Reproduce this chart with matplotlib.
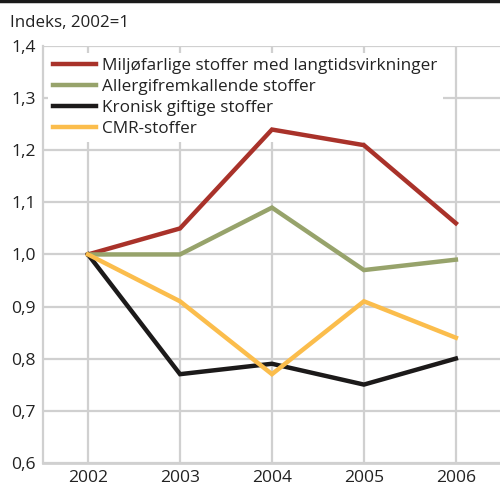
import matplotlib.pyplot as plt
from matplotlib.lines import Line2D
from matplotlib.ticker import FuncFormatter

plt.rcParams['font.family'] = ['Open Sans', 'DejaVu Sans']

years = [2002, 2003, 2004, 2005, 2006]
miljo = [1.0, 1.05, 1.24, 1.21, 1.06]
allergi = [1.0, 1.0, 1.09, 0.97, 0.99]
kronisk = [1.0, 0.77, 0.79, 0.75, 0.80]
cmr = [1.0, 0.91, 0.77, 0.91, 0.84]

labels = ["Miljøfarlige stoffer med langtidsvirkninger",
          "Allergifremkallende stoffer",
          "Kronisk giftige stoffer",
          "CMR-stoffer"]
colors = ["#a9322a", "#97a36b", "#1c1a1a", "#fbbd4c"]

fig = plt.figure(figsize=(5.0, 4.87), dpi=100)
ax = fig.add_axes([0.086, 0.05, 0.914, 0.855])

grid_col = "#d0d0d0"
for i, s in enumerate([miljo, allergi, kronisk, cmr]):
    ax.plot(years, s, color=colors[i], lw=3.2, label=labels[i], zorder=3,
            solid_joinstyle='miter')

ax.set_xlim(2001.51, 2006.48)
ax.set_ylim(0.6, 1.4)
ax.set_xticks(years)
ax.set_yticks([0.6, 0.7, 0.8, 0.9, 1.0, 1.1, 1.2, 1.3, 1.4])
ax.yaxis.set_major_formatter(FuncFormatter(lambda v, p: f"{v:.1f}".replace(".", ",")))
ax.grid(True, color=grid_col, lw=1.6, zorder=0)
ax.set_axisbelow(True)
for side in ["top", "right"]:
    ax.spines[side].set_visible(False)
ax.spines["left"].set_color(grid_col)
ax.spines["left"].set_linewidth(1.6)
ax.spines["bottom"].set_color(grid_col)
ax.spines["bottom"].set_linewidth(2.0)
ax.tick_params(axis="both", length=0, labelsize=12.6, colors="#222222")
ax.tick_params(axis="y", pad=5)
ax.tick_params(axis="x", pad=5)

leg = ax.legend(loc="upper left", bbox_to_anchor=(0.01, 0.985), frameon=True,
                facecolor="white", edgecolor="none", framealpha=1.0,
                fontsize=12.3, handlelength=2.55, handletextpad=0.35,
                labelspacing=0.3, borderpad=0.3, borderaxespad=0.0)
for t in leg.get_texts():
    t.set_color("#222222")
leg.set_zorder(2.5)

fig.text(0.02, 0.953, "Indeks, 2002=1", fontsize=12.2, color="#222222", va="center")
fig.add_artist(Line2D([0, 1], [0.998, 0.998], color="#1a1a1a", lw=2.5,
                      transform=fig.transFigure))

fig.savefig("out.png", dpi=100)
